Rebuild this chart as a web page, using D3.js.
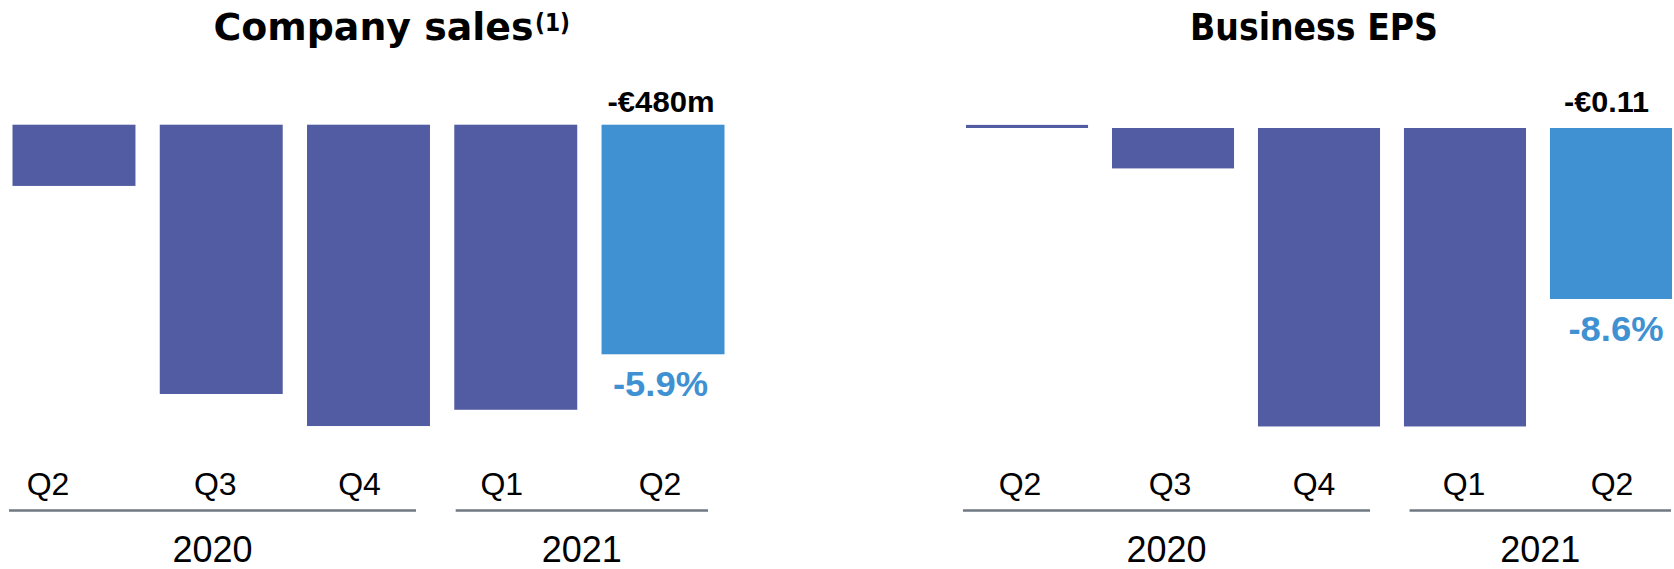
<!DOCTYPE html>
<html>
<head>
<meta charset="utf-8">
<script src="https://cdn.jsdelivr.net/npm/d3@7"></script>
<style>
  html, body { margin: 0; padding: 0; background: #fff; }
  svg { display: block; }
</style>
</head>
<body>
<div id="chart"></div>
<script>
// quarters and the year each one belongs to
var quarters = ["Q2", "Q3", "Q4", "Q1", "Q2"];
var years = ["2020", "2020", "2020", "2021", "2021"];

// FX impact per quarter
var salesValues = [-128, -563, -630, -596, -480];   // €m
var epsValues = [0.002, -0.026, -0.192, -0.192, -0.11]; // €

var salesLabel = "-€480m";
var salesPct = "-5.9%";
var epsLabel = "-€0.11";
var epsPct = "-8.6%";

var W = 1674, H = 569;
var dark = "#525ca2", light = "#4091d2", rule = "#6f7882";

var svg = d3.select("#chart").append("svg")
	.attr("width", W)
	.attr("height", H);

var panels = [
	{
		title: "Company sales", titleX: 213.5, titleLen: 320, sup: "(1)", supX: 535,
		values: salesValues, label: salesLabel, pct: salesPct,
		xRange: [12.5, 724.5], pad: 0.165,
		y: d3.scaleLinear().domain([0, -700]).range([124.7, 124.7 + 700 * 0.4783]),
		qShift: [-26, -6, -9, -14, -3],
		yearInset: { "2020": [-3.5, -14], "2021": [1.4, -16.5] },
		labelShift: -2, pctShift: -2.5, labelLen: 107, pctLen: 95
	},
	{
		title: "Business EPS", titleX: 1190, titleLen: 248, sup: null,
		values: epsValues, label: epsLabel, pct: epsPct,
		xRange: [966, 1672], pad: 0.164,
		y: d3.scaleLinear().domain([0, -0.2]).range([128, 128 + 0.2 * 1554.5]),
		qShift: [-7, -3, -5, -1, 1],
		yearInset: { "2020": [-3, -10], "2021": [5.6, -1] },
		labelShift: -4.5, pctShift: 5, labelLen: 85, pctLen: 95
	}
];

panels.forEach(function(p) {
	var g = svg.append("g");
	var idx = d3.range(quarters.length);

	var x = d3.scaleBand()
		.domain(idx)
		.range(p.xRange)
		.paddingInner(p.pad)
		.paddingOuter(0);
	var bw = x.bandwidth();
	var last = idx.length - 1;

	// title
	g.append("text")
		.attr("x", p.titleX)
		.attr("y", 40)
		.attr("textLength", p.titleLen)
		.attr("lengthAdjust", "spacingAndGlyphs")
		.style("font-family", "'DejaVu Sans', sans-serif")
		.style("font-weight", "bold")
		.style("font-size", "37px")
		.style("fill", "#000")
		.text(p.title);

	if (p.sup) {
		g.append("text")
			.attr("x", p.supX)
			.attr("y", 31)
			.attr("textLength", 35)
			.attr("lengthAdjust", "spacingAndGlyphs")
			.style("font-family", "'DejaVu Sans', sans-serif")
			.style("font-weight", "bold")
			.style("font-size", "25px")
			.text(p.sup);
	}

	// bars
	g.selectAll(".bar")
		.data(p.values)
	  .enter().append("rect")
		.attr("class", "bar")
		.attr("x", function(d, i) { return x(i); })
		.attr("width", bw)
		.attr("y", function(d) { return Math.min(p.y(d), p.y(0)); })
		.attr("height", function(d) { return Math.abs(p.y(d) - p.y(0)); })
		.style("fill", function(d, i) { return i === last ? light : dark; });

	// value on top of latest bar
	var cx = x(last) + bw / 2;
	g.append("text")
		.attr("x", cx + p.labelShift)
		.attr("y", 111.7)
		.attr("text-anchor", "middle")
		.attr("textLength", p.labelLen)
		.attr("lengthAdjust", "spacingAndGlyphs")
		.style("font-family", "'Liberation Sans', Arial, sans-serif")
		.style("font-weight", "bold")
		.style("font-size", "29px")
		.style("fill", "#000")
		.text(p.label);

	g.append("text")
		.attr("x", cx + p.pctShift)
		.attr("y", p.y(p.values[last]) + 42)
		.attr("text-anchor", "middle")
		.attr("textLength", p.pctLen)
		.attr("lengthAdjust", "spacingAndGlyphs")
		.style("font-family", "'Liberation Sans', Arial, sans-serif")
		.style("font-weight", "bold")
		.style("font-size", "35px")
		.style("fill", light)
		.text(p.pct);

	// quarter labels
	g.selectAll(".q")
		.data(quarters)
	  .enter().append("text")
		.attr("class", "q")
		.attr("x", function(d, i) { return x(i) + bw / 2 + p.qShift[i]; })
		.attr("y", 495)
		.attr("text-anchor", "middle")
		.style("font-family", "'Liberation Sans', Arial, sans-serif")
		.style("font-size", "32px")
		.style("fill", "#000")
		.text(function(d) { return d; });

	// year groups: rule + label
	var groups = d3.groups(idx, function(i) { return years[i]; });
	groups.forEach(function(gr) {
		var yr = gr[0], members = gr[1];
		var inset = p.yearInset[yr];
		var x0 = x(members[0]) + inset[0];
		var x1 = x(members[members.length - 1]) + bw + inset[1];

		g.append("line")
			.attr("x1", x0).attr("x2", x1)
			.attr("y1", 510.5).attr("y2", 510.5)
			.style("stroke", rule)
			.style("stroke-width", 2.5);

		g.append("text")
			.attr("x", (x0 + x1) / 2)
			.attr("y", 562)
			.attr("text-anchor", "middle")
			.style("font-family", "'Liberation Sans', Arial, sans-serif")
			.style("font-size", "36px")
			.style("fill", "#000")
			.text(yr);
	});
});
</script>
</body>
</html>
